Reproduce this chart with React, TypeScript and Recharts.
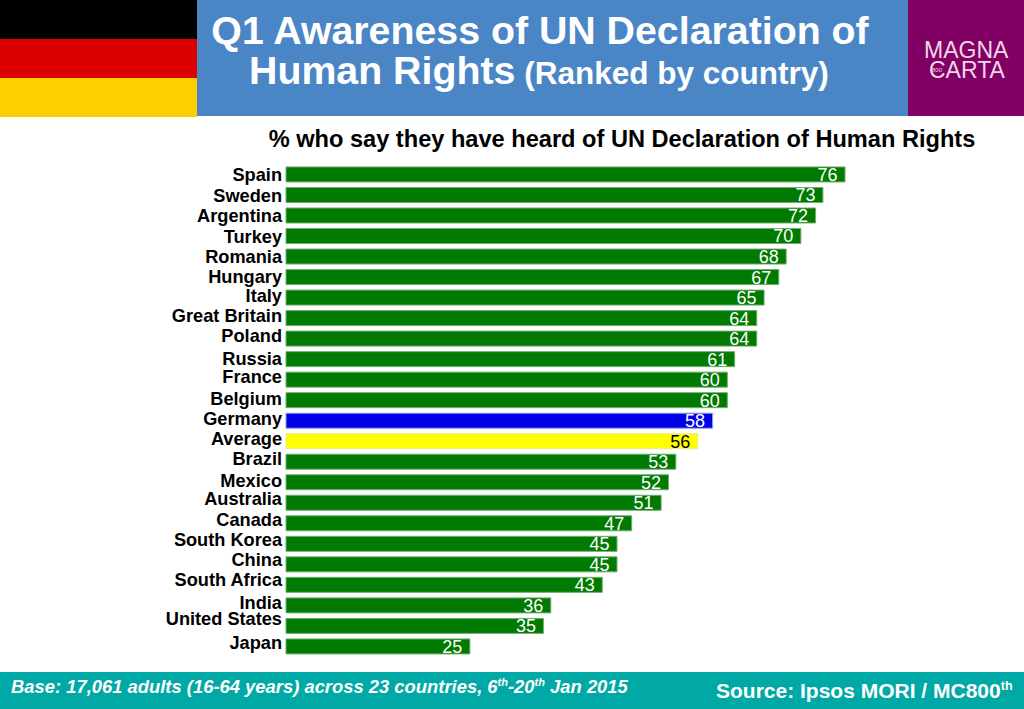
import React from "react";
import { BarChart, Bar, XAxis, YAxis, Cell, LabelList } from "recharts";

const countries = ["Spain","Sweden","Argentina","Turkey","Romania","Hungary","Italy","Great Britain","Poland","Russia","France","Belgium","Germany","Average","Brazil","Mexico","Australia","Canada","South Korea","China","South Africa","India","United States","Japan"];
const awareness = [76,73,72,70,68,67,65,64,64,61,60,60,58,56,53,52,51,47,45,45,43,36,35,25];
const labelNudges = [0,0,0,0,0,-1,-2,-3,-3,-1,-3,-2,-2,-3,-3,-2,-4,-4,-4,-5,-5,-3,-7,-4];
const barColors: Record<string,string> = { Germany: "#0000e6", Average: "#ffff00" };
const barStrokes: Record<string,string> = { Germany: "#8aa0e0", Average: "#e8e8a0" };
const rows = countries.map((country, i) => ({ country, value: awareness[i] }));

const SANS = "'Liberation Sans', Arial, sans-serif";

const CountryTick = (props: any) => {
  const { x, y, payload, index } = props;
  return (
    <text x={x} y={y + (labelNudges[index] || 0)} dy="0.36em" textAnchor="end" fontFamily={SANS} fontWeight={700} fontSize={18.2} fill="#000">
      {payload.value}
    </text>
  );
};

const ValueLabel = (props: any) => {
  const { x, y, width, height, value, index } = props;
  const isAverage = countries[index] === "Average";
  return (
    <text x={x + width - 7.5} y={y + height / 2} dy="0.36em" textAnchor="end" fontFamily={SANS} fontSize={18} fill={isAverage ? "#000" : "#fff"}>
      {value}
    </text>
  );
};

const abs = (left: number, top: number, width: number, height: number, background?: string): React.CSSProperties => ({
  position: "absolute", left, top, width, height, background,
});

export default function App() {
  return (
    <div style={{ position: "absolute", left: 0, top: 0, width: 1024, height: 709, background: "#fff", overflow: "hidden", fontFamily: SANS }}>
      <div style={abs(197, 0, 711, 116, "#4a86c6")} />
      <div style={abs(0, 0, 197, 39, "#000")} />
      <div style={abs(0, 39, 197, 39, "#dd0000")} />
      <div style={abs(0, 78, 197, 39, "#ffce00")} />
      <div style={abs(908, 0, 116, 116, "#7f0062")} />
      <div style={{ ...abs(924, 40, 90, 20), color: "#f5d5ea", fontSize: 23, lineHeight: "20px", whiteSpace: "nowrap" }}>MAGNA</div>
      <div style={{ ...abs(929, 60, 90, 20), color: "#f5d5ea", fontSize: 23, lineHeight: "20px", whiteSpace: "nowrap" }}>CARTA</div>
      <div style={{ ...abs(932, 66, 14, 8), color: "#f5d5ea", fontSize: 6, lineHeight: "8px", whiteSpace: "nowrap" }}>800</div>

      <div style={{ ...abs(197, 8, 686, 44), color: "#fff", fontWeight: 700, fontSize: 39.3, lineHeight: "44px", textAlign: "center", whiteSpace: "nowrap" }}>
        Q1 Awareness of UN Declaration of
      </div>
      <div style={{ ...abs(249, 48, 640, 44), color: "#fff", fontWeight: 700, fontSize: 39.3, lineHeight: "44px", whiteSpace: "nowrap" }}>
        Human Rights <span style={{ fontSize: 31.5, marginLeft: -2 }}>(Ranked by country)</span>
      </div>
      <div style={{ ...abs(200, 125, 844, 28), color: "#000", fontWeight: 700, fontSize: 23.6, lineHeight: "28px", textAlign: "center", whiteSpace: "nowrap" }}>
        % who say they have heard of UN Declaration of Human Rights
      </div>

      <div style={abs(0, 0, 1024, 709)}>
        <BarChart width={1024} height={709} data={rows} layout="vertical" barCategoryGap={2.75} margin={{ top: 164.2, right: 179, bottom: 52.3, left: 0 }}>
          <XAxis type="number" domain={[0, 76]} hide />
          <YAxis type="category" dataKey="country" width={286} axisLine={false} tickLine={false} interval={0} tickMargin={0} tick={(p: any) => <CountryTick {...p} x={282} />} />
          <Bar dataKey="value" isAnimationActive={false} strokeWidth={1}>
            {rows.map((r) => (
              <Cell key={r.country} fill={barColors[r.country] || "#007a00"} stroke={barStrokes[r.country] || "#6fae6f"} />
            ))}
            <LabelList dataKey="value" content={ValueLabel as any} />
          </Bar>
        </BarChart>
      </div>

      <div style={abs(0, 672, 1024, 37, "#00a9a5")} />
      <div style={{ ...abs(11, 676, 700, 22), color: "#fff", fontStyle: "italic", fontWeight: 700, fontSize: 18.4, lineHeight: "22px", whiteSpace: "nowrap" }}>
        Base: 17,061 adults (16-64 years) across 23 countries, 6<sup style={{ fontSize: 11, lineHeight: 0 }}>th</sup>-20<sup style={{ fontSize: 11, lineHeight: 0 }}>th</sup> Jan 2015
      </div>
      <div style={{ ...abs(716, 679, 308, 24), color: "#fff", fontWeight: 700, fontSize: 21, lineHeight: "24px", whiteSpace: "nowrap" }}>
        Source: Ipsos MORI / MC800<sup style={{ fontSize: 12.5, lineHeight: 0 }}>th</sup>
      </div>
    </div>
  );
}
